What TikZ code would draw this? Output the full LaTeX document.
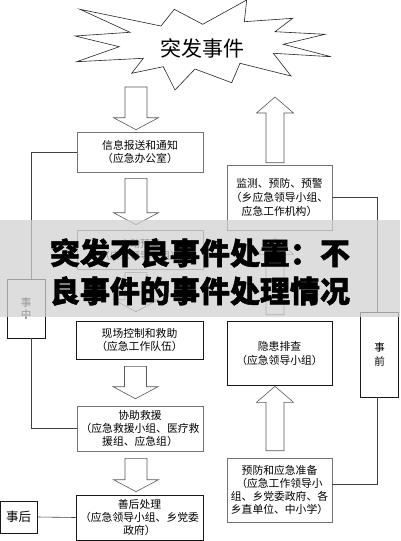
\documentclass[tikz,border=0pt]{standalone}
\usepackage{fontspec}
\setmainfont{Noto Sans CJK SC}
\newfontfamily\bannerfont{Noto Sans CJK SC}[BoldFeatures={FakeBold=1.6}]
\usetikzlibrary{calc}
\newcommand\downblock[2]{\draw[blk] let \p1=#1, \p2=#2 in (\x1-11pt,\y1) -- (\x1-11pt,\y2+12pt) -- (\x1-22.5pt,\y2+12pt) -- (\x1,\y2) -- (\x1+22.5pt,\y2+12pt) -- (\x1+11pt,\y2+12pt) -- (\x1+11pt,\y1) -- cycle;}
\newcommand\upblock[2]{\draw[blk] let \p1=#1, \p2=#2 in (\x1-9pt,\y1) -- (\x1-9pt,\y2-16pt) -- (\x1-18.5pt,\y2-16pt) -- (\x1,\y2) -- (\x1+18.5pt,\y2-16pt) -- (\x1+9pt,\y2-16pt) -- (\x1+9pt,\y1) -- cycle;}
\begin{document}
\begin{tikzpicture}[x=1pt,y=-1pt,
  box/.style={draw=black!55, line width=0.6pt, fill=white, align=center, inner sep=0pt,
    font=\fontsize{10.8}{13}\selectfont},
  boxd/.style={box, draw=black!90},
  ln/.style={draw=black!75, line width=0.6pt},
  blk/.style={draw=black!65, fill=white, line width=0.6pt},
  starline/.style={draw=black!85, line width=0.6pt, fill=white}]
\useasboundingbox (0,0) rectangle (400,541);
% burst
\draw[starline] (80,9.3) -- (161,26) -- (174.3,9.3) -- (202.7,24.3) -- (246.7,0) -- (244.3,21.7)
  -- (292.7,18.3) -- (275,31.7) -- (325,34.3) -- (283.3,44.3) -- (331,56.7) -- (273.3,53.3)
  -- (291,76) -- (240,63.3) -- (231.7,82.7) -- (195,69) -- (175,90) -- (163.3,66.7)
  -- (131.7,73.3) -- (143.3,58.3) -- (76.7,61.7) -- (119.3,46.7) -- (75,36) -- (130,32.3) -- cycle;
\node[font=\fontsize{21}{24}\selectfont] (burst) at (202,48) {突发事件};
\coordinate (burstbot) at (136,87);
\coordinate (bursttip) at (275,97);
% left column
\node[box, minimum width=126pt, minimum height=40pt] (b1) at (140,152) {信息报送和通知\\（应急办公室）};
\node[box, minimum width=126pt, minimum height=39pt, font=\fontsize{10}{12}\selectfont] (b3) at (140,249.5) {启动预案\\（应急领导小组）};
\node[boxd, minimum width=127pt, minimum height=38pt] (b4) at (139.5,340) {现场控制和救助\\（应急工作队伍）};
\node[box, minimum width=126pt, minimum height=45pt] (b5) at (140,428.5) {协助救援\\（应急救援小组、医疗救\\援组、应急组）};
\node[boxd, minimum width=127pt, minimum height=45pt] (b6) at (139.5,517.5) {善后处理\\（应急领导小组、乡党委\\政府）};
% right column
\node[box, minimum width=105pt, minimum height=65pt, font=\fontsize{10.8}{14}\selectfont] (b2) at (279.5,197.5) {监测、预防、预警\\（乡应急领导小组、\\应急工作机构）};
\node[boxd, minimum width=105pt, minimum height=64pt, font=\fontsize{10.8}{14}\selectfont] (yh) at (279.5,353) {隐患排查\\（应急领导小组）};
\node[box, minimum width=105pt, minimum height=64pt] (yf) at (279.5,490) {预防和应急准备\\（应急工作领导小\\组、乡党委政府、各\\乡直单位、中小学）};
% stage labels
\node[boxd, minimum width=38pt, minimum height=59pt, font=\fontsize{10.5}{12}\selectfont] (sz) at (26,308.5) {事\\中};
\node[boxd, minimum width=38pt, minimum height=85pt, font=\fontsize{10.5}{14}\selectfont] (sq) at (379.5,354.5) {事\\前};
\node[boxd, minimum width=37pt, minimum height=32pt, font=\fontsize{12.5}{14}\selectfont] (sh) at (18.5,517) {事后};
% connectors
\draw[ln] (b1.west) -| ([xshift=5pt]sz.north);
\draw[ln] ([xshift=5pt]sz.south) |- (b5.west);
\draw[ln] (b2.east) -| ([xshift=-2pt]sq.north);
\draw[ln] ([xshift=-2pt]sq.south) |- ([yshift=6pt]yf.east);
\draw[ln] (sh.east) -- (b6.west);
% block arrows
\downblock{(burstbot)}{($(b1.north)+(0,-2)$)}
\downblock{($(b1.south)+(-4,6)$)}{($(b3.north)+(-4,-5)$)}
\downblock{($(b3.south)+(-4,3)$)}{($(b4.north)+(-4,-9)$)}
\downblock{($(b4.south)+(-4,7)$)}{($(b5.north)+(-4,-7)$)}
\downblock{($(b5.south)+(-4,7)$)}{($(b6.north)+(-4,-3)$)}
\upblock{($(b2.north)+(-4.5,-2)$)}{(bursttip)}
\upblock{($(yh.north)+(-4.5,-6)$)}{($(b2.south)+(-4.5,8)$)}
\upblock{($(yf.north)+(-4.5,-7)$)}{($(yh.south)+(-4.5,1)$)}
% banner
\fill[black!18, opacity=0.73] (0,220) rectangle (400,317);
\node[font=\bannerfont\bfseries\fontsize{30}{38}\selectfont, align=center, inner sep=0pt] (banner) at (200,272) {突发不良事件处置：不\\良事件的事件处理情况};
\end{tikzpicture}
\end{document}
